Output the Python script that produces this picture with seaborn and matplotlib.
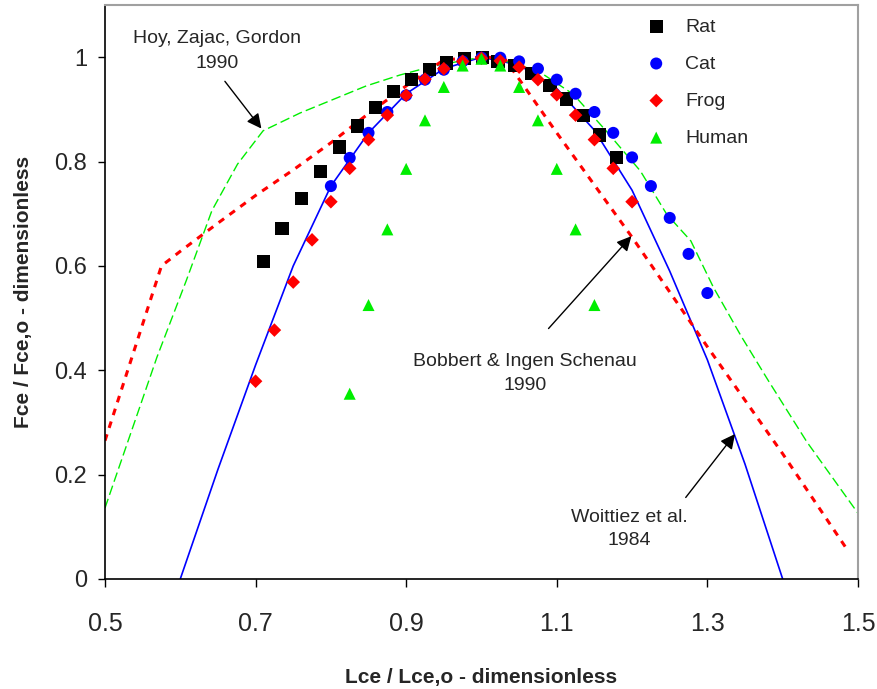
import numpy as np
import pandas as pd
import seaborn as sns
import matplotlib.pyplot as plt

rat_x = [0.710, 0.735, 0.761, 0.786, 0.811, 0.835, 0.859, 0.883, 0.907, 0.931, 0.954,
         0.977, 1.001, 1.022, 1.044, 1.067, 1.091, 1.113, 1.135, 1.157, 1.179]
rat_y = [0.608, 0.671, 0.729, 0.781, 0.828, 0.868, 0.904, 0.934, 0.957, 0.976, 0.989,
         0.997, 0.999, 0.992, 0.984, 0.968, 0.946, 0.920, 0.889, 0.851, 0.808]

cat_x = [0.800, 0.825, 0.850, 0.875, 0.900, 0.925, 0.950, 0.975, 1.000, 1.025, 1.050,
         1.075, 1.100, 1.125, 1.150, 1.175, 1.200, 1.225, 1.250, 1.275, 1.300]
cat_y = [0.753, 0.807, 0.855, 0.895, 0.927, 0.957, 0.976, 0.992, 0.999, 0.999, 0.992,
         0.978, 0.957, 0.930, 0.895, 0.855, 0.808, 0.753, 0.692, 0.623, 0.548]

frog_x = [0.700, 0.725, 0.750, 0.775, 0.800, 0.825, 0.850, 0.875, 0.900, 0.925, 0.950,
          0.975, 1.000, 1.025, 1.050, 1.075, 1.100, 1.125, 1.150, 1.175, 1.200]
frog_y = [0.379, 0.477, 0.569, 0.650, 0.723, 0.787, 0.842, 0.889, 0.927, 0.958, 0.978,
          0.992, 0.998, 0.993, 0.981, 0.957, 0.928, 0.889, 0.842, 0.787, 0.723]

human_x = [0.825, 0.850, 0.875, 0.900, 0.925, 0.950, 0.975, 1.000, 1.025, 1.050,
           1.075, 1.100, 1.125, 1.150]
human_y = [0.355, 0.525, 0.670, 0.786, 0.879, 0.943, 0.984, 0.997, 0.984, 0.943,
           0.879, 0.786, 0.670, 0.525]

# model curves
woit_x = [0.60, 0.65, 0.70, 0.75, 0.80, 0.85, 0.90, 0.95, 1.00, 1.05, 1.10, 1.15,
          1.20, 1.25, 1.30, 1.35, 1.40]
woit_y = [0.0, 0.21, 0.41, 0.60, 0.753, 0.855, 0.93, 0.978, 1.0, 0.985, 0.94, 0.86,
          0.745, 0.59, 0.42, 0.22, 0.0]

hoy_x = [0.500, 0.537, 0.569, 0.608, 0.642, 0.676, 0.710, 0.759, 0.803, 0.847, 0.892,
         0.936, 1.000, 1.040, 1.078, 1.122, 1.166, 1.211, 1.246, 1.278, 1.308, 1.345,
         1.381, 1.432, 1.500]
hoy_y = [0.136, 0.291, 0.425, 0.572, 0.706, 0.795, 0.859, 0.893, 0.919, 0.945, 0.966,
         0.983, 1.000, 0.990, 0.971, 0.929, 0.858, 0.782, 0.699, 0.648, 0.559, 0.465,
         0.380, 0.263, 0.126]

bob_x = [0.500, 0.575, 0.600, 0.650, 0.700, 0.750, 0.800, 0.850, 0.900, 0.950, 1.000,
         1.030, 1.100, 1.200, 1.300, 1.400, 1.483]
bob_y = [0.265, 0.600, 0.628, 0.682, 0.735, 0.784, 0.836, 0.892, 0.945, 0.995, 1.000,
         0.999, 0.855, 0.655, 0.445, 0.240, 0.062]

sns.set_style("white")
plt.rcParams['font.family'] = ['Liberation Sans', 'DejaVu Sans']

fig, ax = plt.subplots(figsize=(8.77, 6.89), dpi=100)
fig.subplots_adjust(left=0.1197, right=0.9783, bottom=0.1597, top=0.9927)

sns.lineplot(x=woit_x, y=woit_y, color='#0000ff', linewidth=1.2, sort=False, ax=ax)
sns.lineplot(x=hoy_x, y=hoy_y, color='#00ee00', linewidth=1.0, sort=False,
             linestyle=(0, (7, 3)), ax=ax)
sns.lineplot(x=bob_x, y=bob_y, color='#ff0000', linewidth=2.2, sort=False,
             linestyle=(0, (2.2, 2.2)), ax=ax)

# markers
points = [
    ('Rat', rat_x, rat_y, 's', 'black', 90),
    ('Cat', cat_x, cat_y, 'o', '#0000ff', 75),
    ('Frog', frog_x, frog_y, 'D', '#ff0000', 48),
    ('Human', human_x, human_y, '^', '#00ee00', 75),
]
for name, xs, ys, m, c, s in points:
    df = pd.DataFrame({'x': xs, 'y': ys})
    sns.scatterplot(data=df, x='x', y='y', marker=m, color=c, s=s,
                    edgecolor='none', label=name, ax=ax, zorder=3)

ax.set_xlim(0.5, 1.5)
ax.set_ylim(0, 1.1)
ax.set_xticks([0.5, 0.7, 0.9, 1.1, 1.3, 1.5])
ax.set_xticklabels(['0.5', '0.7', '0.9', '1.1', '1.3', '1.5'])
ax.set_yticks([0, 0.2, 0.4, 0.6, 0.8, 1.0])
ax.set_yticklabels(['0', '0.2', '0.4', '0.6', '0.8', '1'])
ax.tick_params(axis='x', direction='out', length=6, width=1, labelsize=18, pad=18,
               bottom=True, color='black')
ax.tick_params(axis='y', direction='out', length=5, width=1, labelsize=17, pad=8,
               left=True, color='black')

for side in ['left', 'bottom']:
    ax.spines[side].set_color('black')
    ax.spines[side].set_linewidth(1.2)
for side in ['top', 'right']:
    ax.spines[side].set_color('#a0a0a0')
    ax.spines[side].set_linewidth(1.5)

ax.set_xlabel('Lce / Lce,o - dimensionless', fontsize=15, fontweight='bold', labelpad=23)
ax.set_ylabel('Fce / Fce,o - dimensionless', fontsize=15, fontweight='bold', labelpad=15)

arrow = dict(arrowstyle='-|>', color='black', lw=1, mutation_scale=22)
ax.text(0.649, 1.012, 'Hoy, Zajac, Gordon\n1990', ha='center', va='center',
        fontsize=14, linespacing=1.55)
ax.annotate('', xy=(0.71, 0.859), xytext=(0.657, 0.958), arrowprops=arrow)
ax.text(1.058, 0.394, 'Bobbert & Ingen Schenau\n1990', ha='center', va='center',
        fontsize=14, linespacing=1.55)
ax.annotate('', xy=(1.2016, 0.661), xytext=(1.0866, 0.476), arrowprops=arrow)
ax.text(1.1965, 0.096, 'Woittiez et al.\n1984', ha='center', va='center',
        fontsize=14, linespacing=1.5)
ax.annotate('', xy=(1.339, 0.282), xytext=(1.269, 0.152), arrowprops=arrow)

ax.legend(loc='upper left', bbox_to_anchor=(0.683, 1.008), frameon=False, fontsize=14,
          labelspacing=1.0, handletextpad=0.5, markerscale=1.0)

fig.savefig('out.png', dpi=100)
